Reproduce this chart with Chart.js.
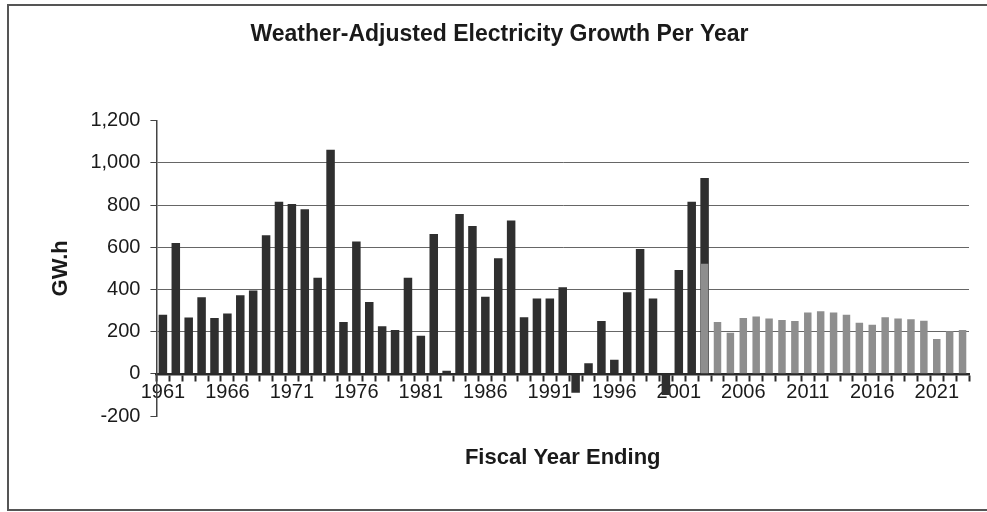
<!DOCTYPE html>
<html>
<head>
<meta charset="utf-8">
<script src="https://cdn.jsdelivr.net/npm/chart.js"></script>
<style>
  html, body { margin: 0; padding: 0; background: #fff; overflow: hidden; }
  #frame {
    position: absolute; left: 7px; top: 4px;
    width: 1000px; height: 503px;
    border: 2px solid #555; border-right: none;
  }
  #wrap { position: absolute; left: 0; top: 0; width: 987px; height: 512px; }
</style>
</head>
<body>
<div id="frame"></div>
<div id="wrap"><canvas id="chart" width="987" height="512"></canvas></div>
<script>
// fiscal years 1961 - 2023
const years = []
for (let y = 1961; y <= 2023; y++) years.push(String(y))

// actual growth, GW.h (1961 - 2003)
const actual = [
  280, 620, 267, 363, 264, 286, 372, 395, 657, 815,
  805, 780, 455, 1062, 245, 627, 340, 225, 207, 455,
  180, 662, 15, 757, 700, 365, 548, 727, 268, 357,
  357, 410, -90, 50, 250, 67, 387, 592, 357, -100,
  492, 815, 928
]

// forecast growth, GW.h (2003 - 2023)
const forecast = [
  522, 245, 195, 264, 272, 262, 255, 250, 290, 296,
  290, 280, 242, 232, 268, 262, 258, 252, 165, 202,
  208
]

const yTicks = [-200, 0, 200, 400, 600, 800, 1000, 1200]

const actualData = years.map((y, i) => i < actual.length ? actual[i] : null)
const forecastStart = 42
const forecastData = years.map((y, i) => i >= forecastStart ? forecast[i - forecastStart] : null)

const fontFamily = "'Liberation Sans', Arial, sans-serif"

// x axis title centred under the plot area (the axis itself sits on the zero line)
const xTitle = {
  id: 'xTitle',
  afterDraw(chart) {
    const { ctx, chartArea } = chart
    ctx.save()
    ctx.font = `bold 22px ${fontFamily}`
    ctx.fillStyle = '#1a1a1a'
    ctx.textAlign = 'center'
    ctx.textBaseline = 'middle'
    ctx.fillText('Fiscal Year Ending', (chartArea.left + chartArea.right) / 2, chartArea.bottom + 42)
    ctx.restore()
  }
}

new Chart(document.getElementById('chart'), {
  type: 'bar',
  data: {
    labels: years,
    datasets: [
      {
        label: 'Forecast',
        data: forecastData,
        backgroundColor: '#8e8e8e',
        barPercentage: 0.58,
        categoryPercentage: 1.0,
        grouped: false
      },
      {
        label: 'Actual',
        data: actualData,
        backgroundColor: '#2f2f2f',
        barPercentage: 0.66,
        categoryPercentage: 1.0,
        grouped: false
      }
    ]
  },
  plugins: [xTitle],
  options: {
    responsive: false,
    animation: false,
    layout: { padding: { left: 30, right: 18, top: 4, bottom: 96 } },
    plugins: {
      legend: { display: false },
      tooltip: { enabled: false },
      title: {
        display: true,
        text: 'Weather-Adjusted Electricity Growth Per Year',
        color: '#1a1a1a',
        font: { family: fontFamily, size: 23, weight: 'bold' },
        padding: { top: 17, bottom: 72 }
      }
    },
    scales: {
      x: {
        position: { y: 0 },
        offset: true,
        z: 1,
        grid: {
          offset: true,
          drawOnChartArea: false,
          drawTicks: true,
          tickLength: 6,
          tickWidth: 2,
          tickColor: '#2a2a2a'
        },
        border: { display: true, color: '#2a2a2a', width: 2.5 },
        ticks: {
          autoSkip: false,
          maxRotation: 0,
          padding: 1,
          color: '#1a1a1a',
          font: { family: fontFamily, size: 20 },
          callback: (v, i) => (i % 5 === 0 ? years[i] : '')
        }
      },
      y: {
        min: yTicks[0],
        max: yTicks[yTicks.length - 1],
        afterBuildTicks: axis => { axis.ticks = yTicks.map(v => ({ value: v })) },
        grid: {
          color: ctx => (ctx.tick && (ctx.tick.value === 1200 || ctx.tick.value === -200 || ctx.tick.value === 0)) ? 'rgba(0,0,0,0)' : '#666',
          lineWidth: 1,
          tickColor: '#444',
          tickLength: 6
        },
        border: { display: true, color: '#444', width: 1.5 },
        title: {
          display: true,
          text: 'GW.h',
          color: '#1a1a1a',
          font: { family: fontFamily, size: 22, weight: 'bold' },
          padding: { top: 18, bottom: 6 }
        },
        ticks: {
          padding: 10,
          color: '#1a1a1a',
          font: { family: fontFamily, size: 20 },
          callback: v => v.toLocaleString('en-US')
        }
      }
    }
  }
})
</script>
</body>
</html>
